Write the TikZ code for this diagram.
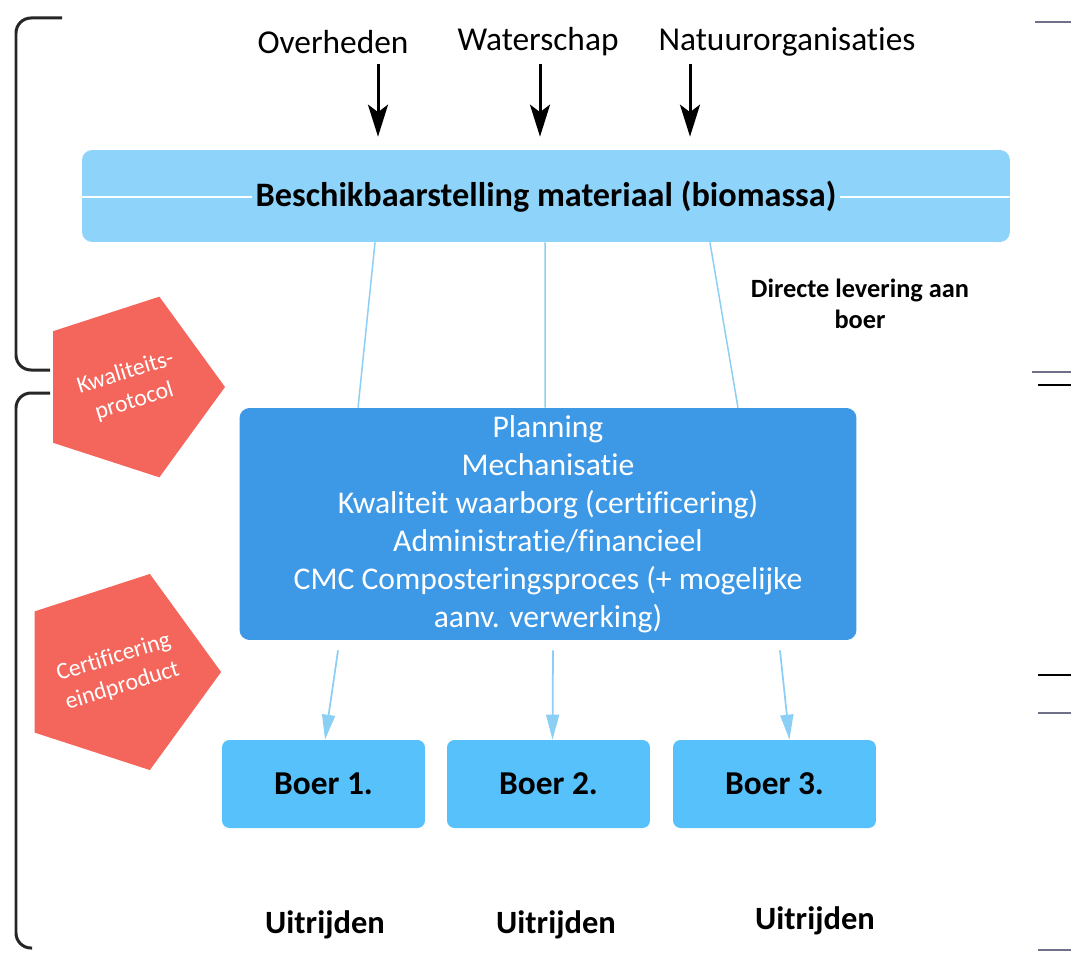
\documentclass[tikz,border=0pt]{standalone}
\usepackage{fontspec}
\setmainfont{Carlito}[Ligatures=NoCommon]
\usetikzlibrary{arrows.meta,positioning,shapes.geometric}

\definecolor{barblue}{HTML}{8DD3FA}
\definecolor{cmcblue}{HTML}{3D98E6}
\definecolor{boerblue}{HTML}{57C1FB}
\definecolor{lineblue}{HTML}{8CCFF5}
\definecolor{pentred}{HTML}{F4665C}
\definecolor{markgray}{HTML}{707088}

\tikzset{
	toplabel/.style={font=\fontsize{19}{22}\selectfont, inner sep=0pt},
	boerbox/.style={fill=boerblue, rounded corners=0.15cm, minimum width=4.06cm, minimum height=1.76cm, font=\fontsize{19}{22}\selectfont\bfseries},
	uitlabel/.style={font=\fontsize{18.5}{22}\selectfont\bfseries, inner sep=0pt},
	pent/.style={regular polygon, regular polygon sides=5, rotate=17, shape border rotate=-35, fill=pentred, inner sep=0pt,
		text=white, align=center, font=\fontsize{13.5}{17}\selectfont},
	blackarrow/.style={line width=0.6mm, -{Stealth[length=6.4mm, width=4mm, inset=1.5mm]}},
	bluearrow/.style={line width=0.35mm, lineblue, -{Triangle[length=5mm, width=2.6mm]}},
	feedline/.style={line width=0.3mm, lineblue},
	bracket/.style={line width=0.6mm, black!85, rounded corners=0.3cm},
	edgemark/.style={line width=0.5mm}
}

\begin{document}
\begin{tikzpicture}[x=0.02cm, y=-0.02cm]
	\useasboundingbox (0,0) rectangle (1071,953);

	%%%%% brackets on the left %%%%%
	\draw[bracket] (62,18) -- (16,18) -- (16,370) -- (50,370);
	\draw[bracket] (50,393) -- (16,393) -- (16,948) -- (32,948);

	%%%%% marks on the right %%%%%
	\draw[edgemark, markgray] (1035,22) -- (1071,22);
	\draw[edgemark, markgray] (1032,372) -- (1071,372);
	\draw[edgemark, black] (1038,385) -- (1071,385);
	\draw[edgemark, black] (1038,675) -- (1071,675);
	\draw[edgemark, markgray] (1038,713) -- (1071,713);
	\draw[edgemark, markgray] (1038,950) -- (1071,950);

	%%%%% top %%%%%
	\node[toplabel] (over) at (333,42) {Overheden};
	\node[toplabel] (water) at (538,42) {Waterschap};
	\node[toplabel] (natuur) at (787,42) {Natuurorganisaties};

	\node[fill=barblue, rounded corners=0.2cm, minimum width=18.56cm, minimum height=1.84cm] (bar) at (546,196) {};
	\node[font=\fontsize{19.5}{22}\selectfont\bfseries, inner sep=2pt] (bartext) at (546,197) {Beschikbaarstelling materiaal (biomassa)};
	\draw[white, line width=0.5mm] (bar.west |- bartext.west) -- (bartext.west);
	\draw[white, line width=0.5mm] (bartext.east) -- (bar.east |- bartext.east);

	\coordinate (t1) at (378,64);
	\coordinate (t2) at (540,64);
	\coordinate (t3) at (690,64);
	\foreach \t in {t1,t2,t3}
		\draw[blackarrow, shorten >=0.26cm] (\t) -- (\t |- bar.north);

	\node[font=\fontsize{15}{18}\selectfont\bfseries, align=center] (direct) at (860,304) {Directe levering aan\\boer};

	%%%%% middle %%%%%
	\node[fill=cmcblue, rounded corners=0.2cm, minimum width=12.34cm, minimum height=4.64cm, text=white, align=center, font=\fontsize{18}{21.6}\selectfont] (cmc) at (548,524)
		{Planning\\Mechanisatie\\Kwaliteit waarborg (certificering)\\Administratie/financieel\\CMC Composteringsproces (+ mogelijke\\aanv. verwerking)};

	\draw[feedline] ([xshift=-3.42cm]bar.south) -- ([xshift=-3.8cm]cmc.north);
	\draw[feedline] ([xshift=-0.02cm]bar.south) -- ([xshift=-0.06cm]cmc.north);
	\draw[feedline] ([xshift=3.28cm]bar.south) -- ([xshift=3.8cm]cmc.north);

	\node[pent, minimum size=3.8cm] (kwal) at (130,387) {Kwaliteits-\\protocol};
	\node[pent, minimum size=4cm] (cert) at (118,672) {Certificering\\eindproduct};

	%%%%% bottom %%%%%
	\node[boerbox] (boer1) at (323.5,784) {Boer 1.};
	\node[boerbox] (boer2) at (548.5,784) {Boer 2.};
	\node[boerbox] (boer3) at (774.5,784) {Boer 3.};

	\draw[bluearrow] ([xshift=-4.2cm, yshift=-0.2cm]cmc.south) -- ([xshift=0.03cm]boer1.north);
	\draw[bluearrow] ([xshift=0.1cm, yshift=-0.2cm]cmc.south) -- ([xshift=0.08cm]boer2.north);
	\draw[bluearrow] ([xshift=4.64cm, yshift=-0.2cm]cmc.south) -- ([xshift=0.3cm]boer3.north);

	\node[uitlabel] (uit1) at (325,925) {Uitrijden};
	\node[uitlabel] (uit2) at (556,925) {Uitrijden};
	\node[uitlabel] (uit3) at (815,921) {Uitrijden};
\end{tikzpicture}
\end{document}
